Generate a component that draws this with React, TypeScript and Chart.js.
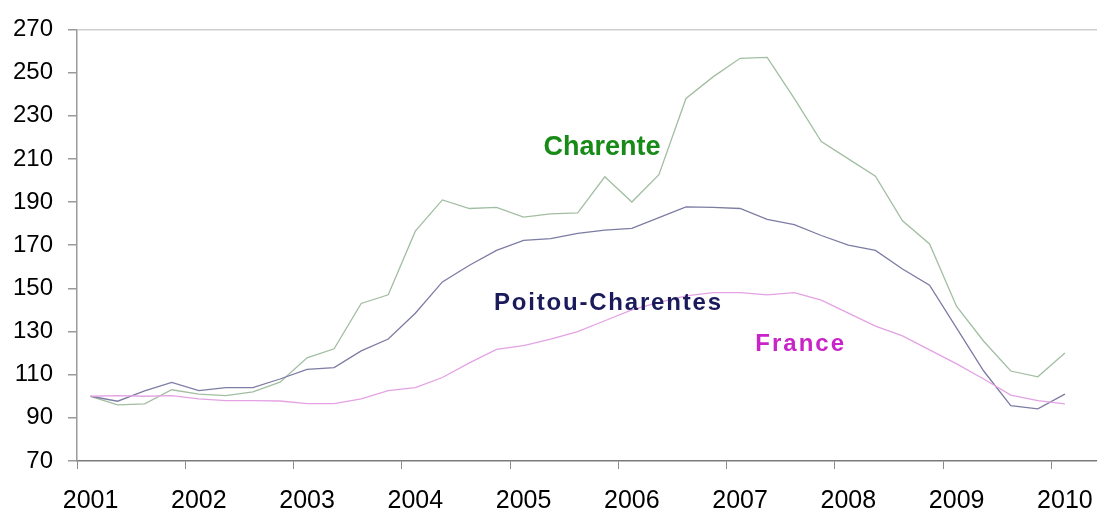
import React, { useEffect, useRef } from 'react';
import { Chart, registerables } from 'chart.js';

Chart.register(...registerables);

const YEARS = ['2001', '2002', '2003', '2004', '2005', '2006', '2007', '2008', '2009', '2010'];
const QUARTERS = YEARS.flatMap((y) => ['T1', 'T2', 'T3', 'T4'].map((q) => `${y} ${q}`)).slice(0, 37);

const CHARENTE = [
  100, 96, 96.5, 103, 101, 100.3, 102, 106.5, 117.8, 122, 143, 147, 176.5, 191, 187, 187.5, 183, 184.5, 185,
  201.7, 190, 202.7, 238, 248, 256.6, 257, 238, 218, 210, 202, 181.3, 170.6, 141.6, 125.5, 111.7, 109, 120,
];
const POITOU_CHARENTES = [
  100, 97.7, 102.5, 106.4, 102.6, 104, 104, 108, 112.5, 113.3, 121, 126.5, 138.5, 153, 160.7, 167.6, 172.2, 173,
  175.5, 177, 177.8, 182.8, 187.8, 187.5, 187, 182, 179.5, 174.5, 170, 167.6, 159, 151.5, 131.6, 111.7, 95.7, 94.2, 101,
];
const FRANCE = [
  100, 100.3, 100, 100.3, 98.8, 98, 98, 97.8, 96.6, 96.6, 98.8, 102.6, 104, 108.7, 115.5, 121.7, 123.5, 126.5, 130,
  135, 140, 143.5, 146.5, 148, 148, 147, 148, 144.5, 138.5, 132.5, 128, 121.5, 115, 108, 100.5, 98, 96.5,
];

const Y_MIN = 70;
const Y_MAX = 270;
const Y_STEP = 20;

const SERIES_LABELS = [
  { text: 'Charente', x: 18.9, y: 215.4, color: '#178a17', font: 'bold 27px "Liberation Sans", Arial, sans-serif', spacing: 0 },
  { text: 'Poitou-Charentes', x: 19.1, y: 142.9, color: '#1b1b5c', font: 'bold 24px "Liberation Sans", Arial, sans-serif', spacing: 1.8 },
  { text: 'France', x: 26.2, y: 124.1, color: '#c824c8', font: 'bold 24px "Liberation Sans", Arial, sans-serif', spacing: 2 },
];

const labelPlugin = {
  id: 'seriesLabels',
  afterDatasetsDraw(chart: any) {
    const { ctx, scales } = chart;
    ctx.save();
    ctx.textAlign = 'center';
    ctx.textBaseline = 'middle';
    for (const l of SERIES_LABELS) {
      ctx.font = l.font;
      ctx.fillStyle = l.color;
      (ctx as any).letterSpacing = `${l.spacing}px`;
      ctx.fillText(l.text, scales.x.getPixelForValue(l.x) + l.spacing / 2, scales.y.getPixelForValue(l.y));
    }
    ctx.restore();
  },
};

export default function App() {
  const ref = useRef<HTMLCanvasElement | null>(null);

  useEffect(() => {
    if (!ref.current) return;
    const chart = new Chart(ref.current, {
      type: 'line',
      data: {
        labels: [...QUARTERS, ''],
        datasets: [
          { label: 'France', data: FRANCE, borderColor: '#e4a2e4', borderWidth: 1.3, pointRadius: 0, tension: 0, fill: false },
          { label: 'Poitou-Charentes', data: POITOU_CHARENTES, borderColor: '#7c7ca4', borderWidth: 1.3, pointRadius: 0, tension: 0, fill: false },
          { label: 'Charente', data: CHARENTE, borderColor: '#a2bea2', borderWidth: 1.3, pointRadius: 0, tension: 0, fill: false },
        ],
      },
      options: {
        responsive: false,
        animation: false,
        layout: { padding: { top: 25, right: 3, left: 0, bottom: 0 } },
        plugins: { legend: { display: false }, tooltip: { enabled: false } },
        scales: {
          x: {
            type: 'category',
            offset: true,
            afterFit: (s: any) => { s.height = 50; },
            border: { color: '#7a7a7a', width: 1.5 },
            grid: {
              offset: true,
              drawOnChartArea: false,
              tickLength: 8,
              tickColor: (c: any) => (c.index % 4 === 0 ? '#8a8a8a' : 'rgba(0,0,0,0)'),
            },
            ticks: {
              autoSkip: false,
              maxRotation: 0,
              padding: 17,
              color: '#000',
              font: { family: '"Liberation Sans", Arial, sans-serif', size: 25 },
              callback: (_v: any, i: number) => (i % 4 === 0 && i / 4 < YEARS.length ? YEARS[i / 4] : ''),
            },
          },
          y: {
            min: Y_MIN,
            max: Y_MAX,
            afterFit: (s: any) => { s.width = 77; },
            border: { color: '#9a9a9a', width: 1.5 },
            grid: {
              tickLength: 9,
              tickColor: '#9a9a9a',
              color: (c: any) => (c.tick && c.tick.value === Y_MAX ? '#cfcfcf' : 'rgba(0,0,0,0)'),
              lineWidth: 1.5,
            },
            ticks: {
              stepSize: Y_STEP,
              padding: 15,
              color: '#000',
              font: { family: '"Liberation Sans", Arial, sans-serif', size: 24 },
            },
          },
        },
      },
      plugins: [labelPlugin],
    });
    return () => chart.destroy();
  }, []);

  return (
    <div style={{ position: 'absolute', left: 0, top: 0, width: 1097, height: 511, overflow: 'hidden', background: '#fff' }}>
      <canvas ref={ref} width={1109} height={511} style={{ width: 1109, height: 511, display: 'block' }} />
    </div>
  );
}
